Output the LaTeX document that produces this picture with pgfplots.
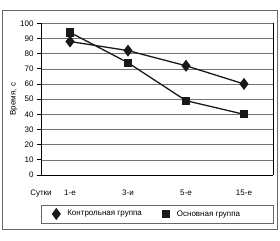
\documentclass[border=0pt]{standalone}
\usepackage{pgfplots}
\pgfplotsset{compat=1.18}
\usepackage{fontspec}
\setmainfont{Liberation Sans}
\begin{document}
\begin{tikzpicture}[x=1pt,y=1pt]
\path (0,0) rectangle (280,240);
\draw[black!60, line width=0.8pt] (2,11) rectangle (277,230);
\draw[black!60, line width=0.6pt] (41,17) rectangle (273,35);
\begin{axis}[
  at={(41pt,65pt)}, anchor=south west,
  width=232pt, height=151.7pt, scale only axis,
  xmin=0, xmax=4, ymin=0, ymax=100,
  axis x line*=bottom, axis y line*=left,
  axis line style={black, line width=0.8pt},
  ytick={0,10,...,100},
  ymajorgrids, major grid style={black!55, line width=0.6pt},
  y tick label style={font=\fontsize{8}{9}\selectfont},
  yticklabel style={/pgf/number format/assume math mode=true},
  ytick style={black, line width=0.8pt},
  tick align=outside, major tick length=4pt,
  xtick={0,0.5,1.5,2.5,3.5},
  xticklabels={Сутки,1-е,3-и,5-е,15-е},
  x tick label style={font=\fontsize{8}{9}\selectfont, yshift=-7pt},
  xtick style={draw=none},
  minor xtick={1,2,3},
  minor x tick style={black, line width=0.8pt},
  minor tick length=5pt,
  ylabel={Время, с},
  ylabel style={font=\fontsize{8}{9}\selectfont, yshift=-4pt},
  clip=false,
  legend style={at={(0.035,-0.257)}, anchor=west, draw=none, fill=none,
    font=\fontsize{8}{9}\selectfont, legend columns=2,
    /tikz/every even column/.append style={column sep=17pt},
    inner xsep=2pt, inner ysep=1pt},
  legend image code/.code={\path[draw=none,fill=none] (-5pt,-3pt) rectangle (9pt,3pt); \draw[#1] plot coordinates {(0pt,0pt)};},
]
\draw[black, line width=0.8pt] (rel axis cs:1,0) -- (rel axis cs:1,1);
\addplot[black!90, line width=1.3pt, mark=diamond*, mark size=5pt, mark options={solid, fill=black!90}]
  coordinates {(0.5,88) (1.5,82) (2.5,72) (3.5,60)};
\addlegendentry{Контрольная группа}
\addplot[black!90, line width=1.3pt, mark=square*, mark size=3.5pt, mark options={solid, fill=black!90}]
  coordinates {(0.5,94) (1.5,74) (2.5,49) (3.5,40)};
\addlegendentry{Основная группа}
\end{axis}
\end{tikzpicture}
\end{document}
